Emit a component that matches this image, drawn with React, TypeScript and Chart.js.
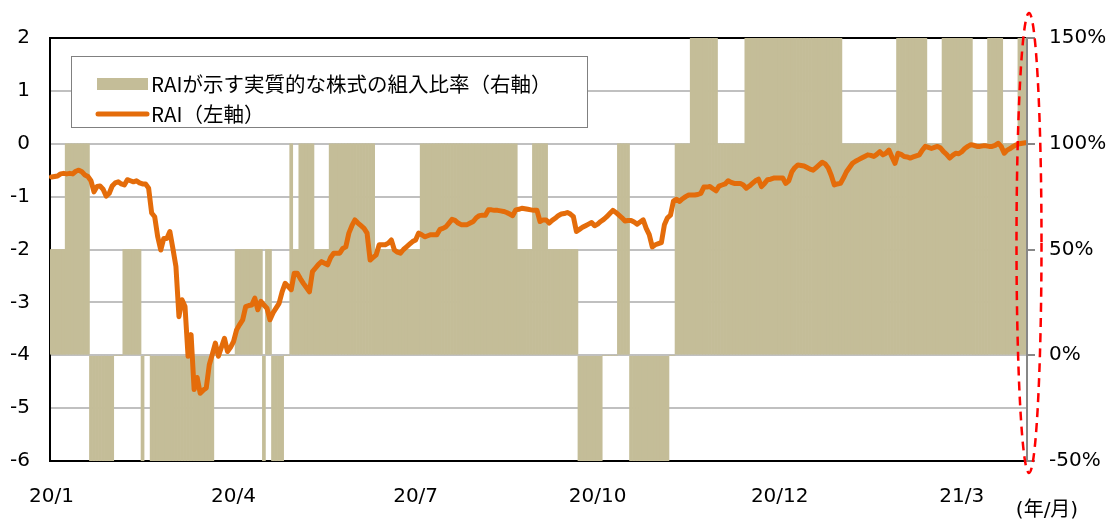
import React, { useEffect, useRef } from 'react';
import { Chart, registerables } from 'chart.js';

Chart.register(...registerables);

// RAI (left axis), one value per business day, 2020/1 .. 2021/3
const raiValues: number[] = [
  -0.63, -0.62, -0.61, -0.57, -0.56, -0.57, -0.56, -0.57, -0.52, -0.50,
  -0.53, -0.59, -0.62, -0.70, -0.91, -0.81, -0.80, -0.86, -0.99, -0.94,
  -0.80, -0.74, -0.72, -0.76, -0.78, -0.68, -0.70, -0.72, -0.70, -0.74,
  -0.76, -0.76, -0.84, -1.31, -1.38, -1.76, -2.01, -1.79, -1.79, -1.66,
  -1.98, -2.32, -3.27, -2.95, -3.08, -4.02, -3.61, -4.65, -4.42, -4.72,
  -4.66, -4.62, -4.18, -3.98, -3.77, -4.02, -3.85, -3.68, -3.93, -3.85,
  -3.74, -3.52, -3.42, -3.33, -3.08, -3.06, -3.05, -2.92, -3.14, -2.98,
  -3.05, -3.11, -3.33, -3.20, -3.11, -3.02, -2.80, -2.64, -2.70, -2.76,
  -2.45, -2.45, -2.55, -2.64, -2.72, -2.80, -2.42, -2.35, -2.28, -2.23,
  -2.26, -2.29, -2.15, -2.07, -2.07, -2.07, -1.98, -1.95, -1.69, -1.55,
  -1.44, -1.50, -1.55, -1.60, -1.69, -2.20, -2.15, -2.10, -1.91, -1.91,
  -1.91, -1.88, -1.82, -2.01, -2.05, -2.07, -2.00, -1.95, -1.90, -1.85,
  -1.82, -1.69, -1.72, -1.76, -1.74, -1.72, -1.72, -1.72, -1.62, -1.60,
  -1.57, -1.50, -1.43, -1.45, -1.50, -1.53, -1.53, -1.53, -1.50, -1.47,
  -1.40, -1.36, -1.35, -1.35, -1.25, -1.25, -1.26, -1.26, -1.27, -1.28,
  -1.30, -1.33, -1.36, -1.25, -1.24, -1.22, -1.23, -1.24, -1.25, -1.26,
  -1.26, -1.47, -1.44, -1.44, -1.50, -1.45, -1.41, -1.36, -1.33, -1.32,
  -1.30, -1.33, -1.38, -1.66, -1.62, -1.58, -1.55, -1.52, -1.49, -1.55,
  -1.52, -1.47, -1.43, -1.38, -1.32, -1.26, -1.30, -1.35, -1.40, -1.46,
  -1.45, -1.45, -1.48, -1.52, -1.48, -1.44, -1.60, -1.72, -1.95, -1.91,
  -1.89, -1.87, -1.53, -1.40, -1.35, -1.08, -1.05, -1.09, -1.04, -1.00,
  -0.97, -0.97, -0.97, -0.96, -0.94, -0.82, -0.82, -0.81, -0.85, -0.89,
  -0.80, -0.78, -0.76, -0.70, -0.73, -0.75, -0.75, -0.75, -0.78, -0.84,
  -0.80, -0.75, -0.70, -0.67, -0.81, -0.75, -0.68, -0.67, -0.65, -0.65,
  -0.65, -0.65, -0.75, -0.70, -0.53, -0.45, -0.40, -0.41, -0.42, -0.45,
  -0.48, -0.50, -0.45, -0.40, -0.35, -0.38, -0.46, -0.60, -0.78, -0.76,
  -0.75, -0.65, -0.53, -0.45, -0.37, -0.33, -0.30, -0.27, -0.24, -0.21,
  -0.22, -0.24, -0.20, -0.15, -0.21, -0.18, -0.12, -0.25, -0.37, -0.18,
  -0.20, -0.24, -0.25, -0.27, -0.25, -0.23, -0.21, -0.12, -0.05, -0.07,
  -0.09, -0.07, -0.05, -0.08, -0.15, -0.20, -0.27, -0.22, -0.18, -0.19,
  -0.15, -0.09, -0.05, -0.02, -0.03, -0.05, -0.05, -0.04, -0.04, -0.05,
  -0.05, -0.03, 0.01, -0.05, -0.18, -0.12, -0.09, -0.05, -0.02, 0.00,
  0.01, 0.02,
];

// Equity ratio implied by RAI (right axis, %), as runs of [value, number of days]
const ratioRuns: [number, number][] = [
  [50, 5], [100, 8], [-50, 8], [0, 3], [50, 6], [-50, 1], [0, 2], [-50, 21],
  [0, 7], [50, 9], [-50, 1], [50, 2], [-50, 4], [0, 2], [100, 1], [50, 2],
  [100, 5], [50, 5], [100, 15], [50, 15], [100, 32], [50, 5], [100, 5], [50, 10],
  [-50, 8], [0, 5], [100, 4], [-50, 13], [0, 2], [100, 5], [150, 9], [100, 9],
  [150, 32], [100, 18], [150, 10], [100, 5], [150, 10], [100, 5], [150, 5], [100, 5],
  [150, 3],
];

const tickLabels = ['20/1', '20/4', '20/7', '20/10', '20/12', '21/3'];
const TICK_EVERY = 60;

const barLabel = 'RAIが示す実質的な株式の組入比率（右軸）';
const lineLabel = 'RAI（左軸）';
const unitLabel = '(年/月)';

const ratioValues: number[] = [];
ratioRuns.forEach(([v, n]) => {
  for (let k = 0; k < n; k++) ratioValues.push(v);
});
const categories = raiValues.map((_, i) => String(i));

const BAR_COLOR = '#c4bd98';
const LINE_COLOR = '#e46c0a';
const FONT = "'DejaVu Sans', 'Noto Sans CJK JP', sans-serif";
const LEGEND_FONT = "'Noto Sans CJK JP', sans-serif";

const overlayPlugin = {
  id: 'overlay',
  afterDraw(chart: any) {
    const ctx = chart.ctx as CanvasRenderingContext2D;
    const area = chart.chartArea;
    ctx.save();
    // right axis line on top of the bars
    ctx.strokeStyle = '#878787';
    ctx.lineWidth = 2;
    ctx.beginPath();
    ctx.moveTo(area.right, area.top);
    ctx.lineTo(area.right, area.bottom + 1);
    ctx.stroke();
    // legend box
    ctx.fillStyle = '#ffffff';
    ctx.fillRect(71, 56, 516, 71);
    ctx.strokeStyle = '#808080';
    ctx.lineWidth = 1;
    ctx.strokeRect(71.5, 56.5, 516, 71);
    // bar swatch
    ctx.fillStyle = BAR_COLOR;
    ctx.fillRect(97, 78, 51, 12);
    // line swatch
    ctx.strokeStyle = LINE_COLOR;
    ctx.lineWidth = 5;
    ctx.lineCap = 'round';
    ctx.beginPath();
    ctx.moveTo(98, 114);
    ctx.lineTo(147, 114);
    ctx.stroke();
    // legend texts
    ctx.fillStyle = '#000000';
    ctx.font = `20.5px ${LEGEND_FONT}`;
    ctx.textAlign = 'left';
    ctx.textBaseline = 'middle';
    ctx.fillText(chart.data.datasets[1].label, 151, 84);
    ctx.fillText(chart.data.datasets[0].label, 151, 114);
    // unit label
    ctx.font = `20px ${FONT}`;
    ctx.textAlign = 'center';
    ctx.fillText(unitLabel, 1047, 511);
    // red dashed ellipse
    ctx.strokeStyle = '#ff0000';
    ctx.lineWidth = 2.5;
    ctx.lineCap = 'butt';
    ctx.setLineDash([9, 6]);
    ctx.beginPath();
    ctx.ellipse(1029, 243, 12.5, 230, 0, 0, Math.PI * 2);
    ctx.stroke();
    ctx.restore();
  },
};

export default function App() {
  const canvasRef = useRef<HTMLCanvasElement | null>(null);

  useEffect(() => {
    if (!canvasRef.current) return;
    const chart = new Chart(canvasRef.current, {
      type: 'bar',
      data: {
        labels: categories,
        datasets: [
          {
            type: 'line',
            label: lineLabel,
            data: raiValues,
            yAxisID: 'yL',
            borderColor: LINE_COLOR,
            borderWidth: 5,
            pointRadius: 0,
            tension: 0,
            borderJoinStyle: 'round',
            borderCapStyle: 'round',
            order: 0,
          } as any,
          {
            type: 'bar',
            label: barLabel,
            data: ratioValues,
            yAxisID: 'yR',
            backgroundColor: BAR_COLOR,
            borderWidth: 0,
            barPercentage: 1,
            categoryPercentage: 1,
            order: 1,
          } as any,
        ],
      },
      options: {
        responsive: false,
        maintainAspectRatio: false,
        animation: false,
        layout: { padding: { top: 38, left: 0, right: 0, bottom: 0 } },
        plugins: {
          legend: { display: false },
          tooltip: { enabled: false },
        },
        scales: {
          x: {
            type: 'category',
            offset: true,
            grid: { display: true, drawOnChartArea: false, drawTicks: false },
            border: { display: true, color: '#000000', width: 2 },
            ticks: {
              autoSkip: false,
              maxRotation: 0,
              minRotation: 0,
              padding: 24,
              color: '#000000',
              font: { family: FONT, size: 20 },
              callback: (_v: any, idx: number) =>
                idx % TICK_EVERY === 0 ? tickLabels[idx / TICK_EVERY] ?? '' : '',
            },
            afterFit: (s: any) => {
              s.height = 62;
            },
          },
          yL: {
            type: 'linear',
            position: 'left',
            min: -6,
            max: 2,
            ticks: {
              stepSize: 1,
              padding: 20,
              color: '#000000',
              font: { family: FONT, size: 20 },
            },
            grid: {
              drawTicks: false,
              lineWidth: 2,
              color: (c: any) =>
                c.tick && (c.tick.value === 2 || c.tick.value === -6) ? '#000000' : '#c0c0c0',
            },
            border: { display: true, color: '#000000', width: 2 },
            afterFit: (s: any) => {
              s.width = 50;
            },
          },
          yR: {
            type: 'linear',
            position: 'right',
            min: -50,
            max: 150,
            ticks: {
              stepSize: 50,
              padding: 14,
              color: '#000000',
              font: { family: FONT, size: 20 },
              callback: (v: any) => `${v}%`,
            },
            grid: {
              drawOnChartArea: false,
              drawTicks: true,
              tickLength: 8,
              lineWidth: 2,
              color: '#878787',
            },
            border: { display: true, color: '#878787', width: 2 },
            afterFit: (s: any) => {
              s.width = 84;
            },
          },
        },
      },
      plugins: [overlayPlugin],
    });
    return () => chart.destroy();
  }, []);

  return (
    <div style={{ position: 'fixed', left: 0, top: 0, width: 1111, height: 523, background: '#fff' }}>
      <canvas ref={canvasRef} width={1111} height={523} style={{ display: 'block' }} />
    </div>
  );
}
